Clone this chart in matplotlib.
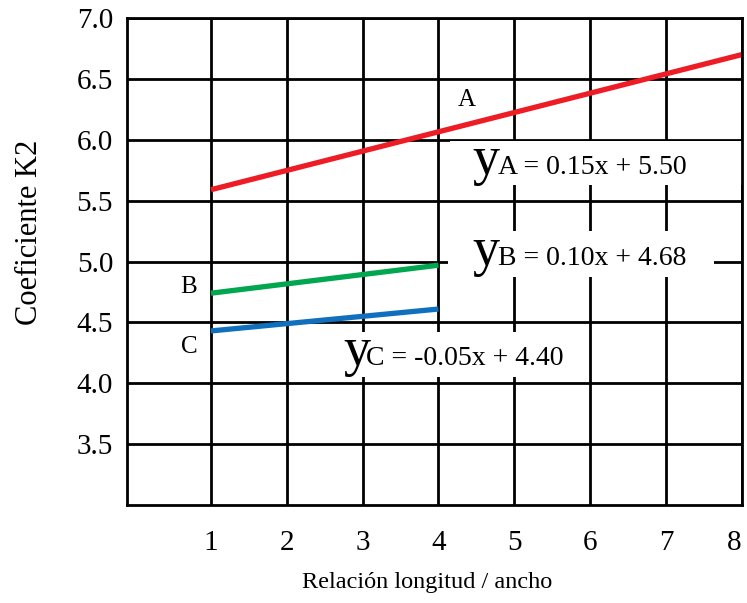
import matplotlib.pyplot as plt
from matplotlib.patches import Rectangle

plt.rcParams['font.family'] = ['Liberation Serif', 'DejaVu Serif']

# end points of the three curves (x = 1 .. 4 or 8)
xa = [1, 8]
ya = [5.59, 6.70]
xb = [1, 4]
yb = [4.74, 4.97]
xc = [1, 4]
yc = [4.43, 4.61]

xticks = [1, 2, 3, 4, 5, 6, 7, 8]
yticks = [3.5, 4.0, 4.5, 5.0, 5.5, 6.0, 6.5, 7.0]

eq_names = ["A", "B", "C"]
eq_texts = ["A = 0.15x + 5.50", "B = 0.10x + 4.68", "C = -0.05x + 4.40"]

fig = plt.figure(figsize=(7.47, 6.03), dpi=100)
ax = fig.add_axes([0.170, 0.1625, 0.823, 0.8075])

ax.set_xlim(-0.107, 8)
ax.set_ylim(3.0, 7.0)
ax.set_xticks(xticks)
ax.set_yticks(yticks)
ax.set_xticklabels([str(v) for v in xticks])
ax.set_yticklabels(["%.1f" % v for v in yticks])
ax.tick_params(length=0, labelsize=21)
ax.tick_params(axis='x', pad=18)
ax.tick_params(axis='y', pad=10)
# keep the last x label inside the figure
ax.get_xticklabels()[-1].set_horizontalalignment('right')

ax.set_axisbelow(True)
ax.grid(True, color='black', linewidth=2.0)
for s in ax.spines.values():
    s.set_linewidth(2.0)
    s.set_zorder(5)

# white boxes behind the equations
boxes = [(4.15, 5.63, 3.85, 0.36), (4.12, 4.87, 3.52, 0.38), (2.3, 4.05, 3.55, 0.37)]
for x0, y0, w, h in boxes:
    ax.add_patch(Rectangle((x0, y0), w, h, facecolor='white', edgecolor='none', zorder=1))

ax.plot(xa, ya, color='#ee1c25', linewidth=3.8, solid_capstyle='butt', zorder=3)
ax.plot(xb, yb, color='#00a650', linewidth=3.8, solid_capstyle='butt', zorder=3)
ax.plot(xc, yc, color='#1170bd', linewidth=3.8, solid_capstyle='butt', zorder=3)

ax.text(4.37, 6.33, "A", fontsize=18, ha='center', va='center', zorder=4)
ax.text(0.71, 4.79, "B", fontsize=18, ha='center', va='center', zorder=4)
ax.text(0.71, 4.30, "C", fontsize=18, ha='center', va='center', zorder=4)

# equations: large "y" followed by the rest of the text
eq_pos = [(4.45, 4.79, 5.72), (4.45, 4.79, 4.97), (2.74, 3.05, 4.15)]
for (xy, xr, yb0), t in zip(eq_pos, eq_texts):
    ax.text(xy, yb0, "y", fontsize=39, ha='left', va='baseline', zorder=4)
    ax.text(xr, yb0, t, fontsize=20, ha='left', va='baseline', zorder=4)

ax.set_xlabel("Relación longitud / ancho", fontsize=17.5)
ax.set_ylabel("Coeficiente K2", fontsize=22)
ax.xaxis.set_label_coords(0.489, -0.138)
ax.yaxis.set_label_coords(-0.135, 0.56)

fig.savefig("out.png", dpi=100)
